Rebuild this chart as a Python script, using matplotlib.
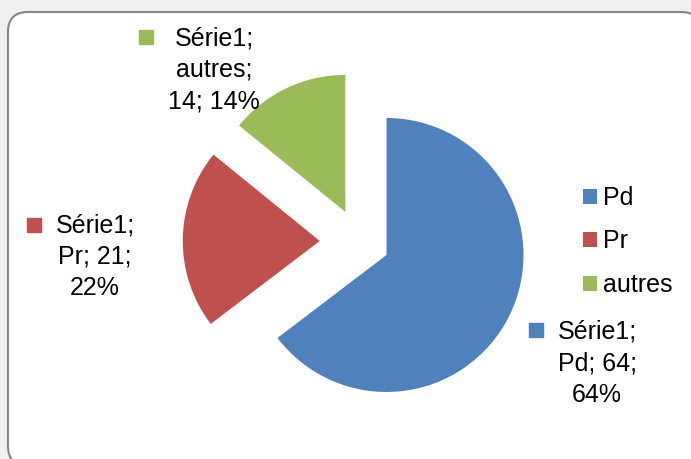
import matplotlib
matplotlib.use('Agg')
import matplotlib.pyplot as plt
from matplotlib.patches import FancyBboxPatch

# données du graphique
serie = 'Série1'
categories = ['Pd', 'Pr', 'autres']
valeurs = [64, 21, 14]
pourcentages = ['64%', '22%', '14%']
couleurs = ['#4f81bd', '#c0504d', '#9bbb59']
eclatement = [0.22, 0.29, 0.24]

W, H = 691, 459
R = 137.0  # rayon du camembert en pixels


def px(x, y):
    # pixels (origine en haut à gauche) -> unités de l'axe (rayon = 1)
    return x / R, (H - y) / R


plt.rcParams['font.family'] = ['Liberation Sans', 'DejaVu Sans']

fig = plt.figure(figsize=(W / 100, H / 100), dpi=100, facecolor='#f0f0f0')
ax = fig.add_axes([0, 0, 1, 1])

# cadre arrondi de la zone de graphique
x0, y0 = px(8, 466)
x1, y1 = px(701, 12)
cadre = FancyBboxPatch((x0, y0), x1 - x0, y1 - y0,
                       boxstyle=f'round,pad=0,rounding_size={20 / R}',
                       facecolor='white', edgecolor='#868686', linewidth=1.5,
                       zorder=0)
ax.add_patch(cadre)

wedges, _ = ax.pie(valeurs, colors=couleurs, explode=eclatement,
                   startangle=90, counterclock=False, radius=1,
                   center=px(359.5, 241.6), frame=True,
                   wedgeprops=dict(linewidth=0))
ax.set_xlim(0, W / R)
ax.set_ylim(0, H / R)
ax.set_aspect('equal')
ax.axis('off')

# étiquettes de données : (carré, haut du texte)
positions = [((536, 330), (597, 320)),
             ((34, 225), (95, 213)),
             ((146, 37), (214, 26))]
for i, (carre, texte) in enumerate(positions):
    if categories[i] == 'autres':
        lab = f'{serie};\n{categories[i]};\n{valeurs[i]}; {pourcentages[i]}'
    else:
        lab = f'{serie};\n{categories[i]}; {valeurs[i]};\n{pourcentages[i]}'
    ax.plot(*px(*carre), marker='s', markersize=10, color=couleurs[i],
            linestyle='none')
    ax.text(*px(*texte), lab, ha='center', va='top', fontsize=18,
            linespacing=1.4, multialignment='center')

ax.legend(wedges, categories, loc='upper left',
          bbox_to_anchor=(583 / W, 1 - 186 / H), frameon=False,
          fontsize=18, borderpad=0, borderaxespad=0,
          handlelength=0.56, handleheight=0.56, handletextpad=0.25,
          labelspacing=0.78)

fig.savefig('out.png', dpi=100, facecolor=fig.get_facecolor())
